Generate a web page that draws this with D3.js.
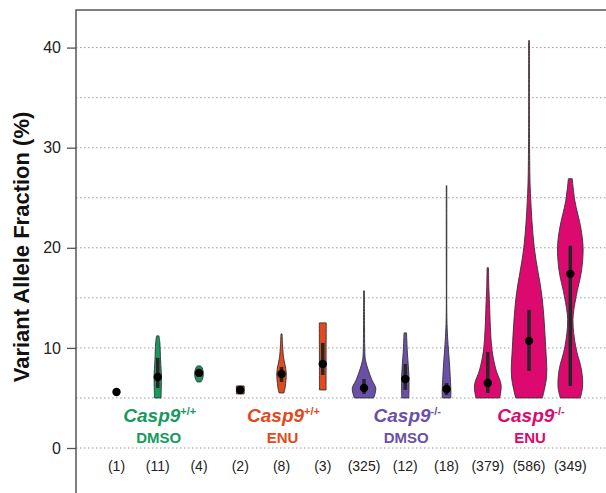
<!DOCTYPE html>
<html>
<head>
<meta charset="utf-8">
<script src="https://cdn.jsdelivr.net/npm/d3@7"></script>
<style>
  body { margin: 0; background: #fff; }
  text { font-family: "Liberation Sans", Arial, sans-serif; }
</style>
</head>
<body>
<div id="chart"></div>
<script>
// sample sizes, one per violin
const counts = [1, 11, 4, 2, 8, 3, 325, 12, 18, 379, 586, 349];
const groupOf = [0, 0, 0, 1, 1, 1, 2, 2, 2, 3, 3, 3];
const groupGenotype = ["+/+", "+/+", "-/-", "-/-"];
const groupTreatment = ["DMSO", "ENU", "DMSO", "ENU"];

// median and interquartile range (VAF %)
const medians = [5.6, 7.1, 7.5, 5.8, 7.4, 8.4, 6.0, 6.9, 5.9, 6.5, 10.7, 17.4];
const q1s = [5.6, 6.0, 7.1, 5.5, 6.6, 7.3, 5.4, 5.8, 5.3, 5.5, 7.7, 6.2];
const q3s = [5.6, 9.0, 7.9, 6.1, 8.1, 10.5, 6.9, 8.4, 6.5, 9.6, 13.8, 20.2];

// density profiles: [VAF %, relative density]
const densities = [
  [],
  [[5.0, 0.19], [6.0, 0.2], [7.1, 0.21], [8.8, 0.16], [10.5, 0.12], [11.2, 0.07]],
  [[6.6, 0.11], [7.0, 0.22], [7.6, 0.24], [8.1, 0.15], [8.2, 0.08]],
  [[5.4, 0.22], [6.2, 0.22]],
  [[5.5, 0.14], [6.1, 0.21], [7.5, 0.27], [8.3, 0.2], [9.1, 0.11], [10.3, 0.06], [11.4, 0.03]],
  [[5.8, 0.19], [9.0, 0.19], [12.5, 0.2]],
  [[5.0, 0.55], [5.5, 0.64], [6.0, 0.67], [6.8, 0.45], [7.8, 0.24], [8.8, 0.08], [10, 0.04], [12, 0.03], [15.7, 0.02]],
  [[5.0, 0.2], [7.1, 0.21], [9.5, 0.12], [11.5, 0.07]],
  [[5.0, 0.24], [5.5, 0.25], [7.8, 0.19], [11.1, 0.06], [13, 0.02], [20, 0.015], [26.2, 0.015]],
  [[5.0, 0.68], [6.3, 0.76], [7.8, 0.47], [9.8, 0.24], [12, 0.15], [14.4, 0.1], [16, 0.06], [18, 0.04]],
  [[5.0, 0.76], [7.1, 1.0], [10.1, 0.95], [15.1, 0.74], [20, 0.3], [25.4, 0.08], [30, 0.03], [40.7, 0.025]],
  [[5.0, 0.57], [6.1, 0.7], [7.8, 0.64], [10.1, 0.31], [12.8, 0.15], [15.1, 0.33], [17.7, 0.64], [20, 0.73], [22, 0.6], [24.7, 0.26], [26.9, 0.11]]
];

const yTicks = [0, 10, 20, 30, 40];
const yGrid = [0, 5, 10, 15, 20, 25, 30, 35, 40];

const colors = ["#169a5d", "#e2491c", "#6a50a9", "#dc0a6e"];
const width = 606, height = 493;
const plotLeft = 76, plotTop = 10;

const svg = d3.select("#chart").append("svg")
    .attr("width", width)
    .attr("height", height);

const x = d3.scalePoint()
    .domain(d3.range(counts.length))
    .range([116.5, 570.3]);
const y = d3.scaleLinear()
    .domain([0, 40])
    .range([448, 47.6]);
const w = d3.scaleLinear()
    .domain([0, 1])
    .range([0, 17.5]);

// grid lines
svg.append("g")
    .selectAll("line")
    .data(yGrid)
    .join("line")
      .attr("x1", plotLeft).attr("x2", width)
      .attr("y1", d => y(d)).attr("y2", d => y(d))
      .attr("stroke", "#9a9a9a")
      .attr("stroke-width", 1)
      .attr("stroke-dasharray", "1.5,2.5");

// y axis
svg.append("g")
    .attr("transform", `translate(${plotLeft},0)`)
    .call(d3.axisLeft(y).tickValues(yTicks).tickSize(9).tickPadding(6))
    .call(g => g.select(".domain").remove())
    .call(g => g.selectAll(".tick line").attr("stroke", "#555").attr("stroke-width", 1.3))
    .call(g => g.selectAll(".tick text")
        .attr("font-size", 16)
        .attr("fill", "#222")
        .style("font-family", "'Liberation Sans', Arial, sans-serif"));

// frame
svg.append("path")
    .attr("d", `M${plotLeft},${height}V${plotTop}H${width}`)
    .attr("fill", "none")
    .attr("stroke", "#555")
    .attr("stroke-width", 1.5);

// y label
svg.append("text")
    .attr("transform", "translate(28.5,247) rotate(-90)")
    .attr("text-anchor", "middle")
    .attr("font-size", 22)
    .attr("font-weight", "bold")
    .attr("fill", "#111")
    .text("Variant Allele Fraction (%)");

// violins
const area = d3.area()
    .y(d => y(d[0]))
    .curve(d3.curveCatmullRom.alpha(0.5));

counts.forEach((n, i) => {
  const cx = x(i);
  const col = colors[groupOf[i]];
  if (densities[i].length) {
    svg.append("path")
        .datum(densities[i])
        .attr("d", area.x0(d => cx - w(d[1])).x1(d => cx + w(d[1])))
        .attr("fill", col)
        .attr("stroke", "#333")
        .attr("stroke-width", 0.9);
  }
  if (q3s[i] > q1s[i]) {
    svg.append("line")
        .attr("x1", cx).attr("x2", cx)
        .attr("y1", y(q1s[i])).attr("y2", y(q3s[i]))
        .attr("stroke", "#262626")
        .attr("stroke-width", 3.5);
  }
  svg.append("circle")
      .attr("cx", cx)
      .attr("cy", y(medians[i]))
      .attr("r", 4.2)
      .attr("fill", "#000");
});

// group labels
groupGenotype.forEach((gt, g) => {
  const idx = d3.range(counts.length).filter(i => groupOf[i] === g);
  const cx = d3.mean(idx, i => x(i)) + 2;
  const t = svg.append("text")
      .attr("x", cx)
      .attr("y", 422)
      .attr("text-anchor", "middle")
      .attr("fill", colors[g])
      .attr("font-weight", "bold");
  t.append("tspan")
      .attr("font-style", "italic")
      .attr("font-size", 19)
      .text("Casp9");
  t.append("tspan")
      .attr("font-size", 11)
      .attr("dy", -7)
      .text(gt);
  svg.append("text")
      .attr("x", cx - 1)
      .attr("y", 443)
      .attr("text-anchor", "middle")
      .attr("fill", colors[g])
      .attr("font-weight", "bold")
      .attr("font-size", 15)
      .text(groupTreatment[g]);
});

// counts under each violin
svg.append("g")
    .selectAll("text")
    .data(counts)
    .join("text")
      .attr("x", (d, i) => x(i))
      .attr("y", 471)
      .attr("text-anchor", "middle")
      .attr("font-size", 14)
      .attr("fill", "#222")
      .text(d => `(${d})`);
</script>
</body>
</html>
